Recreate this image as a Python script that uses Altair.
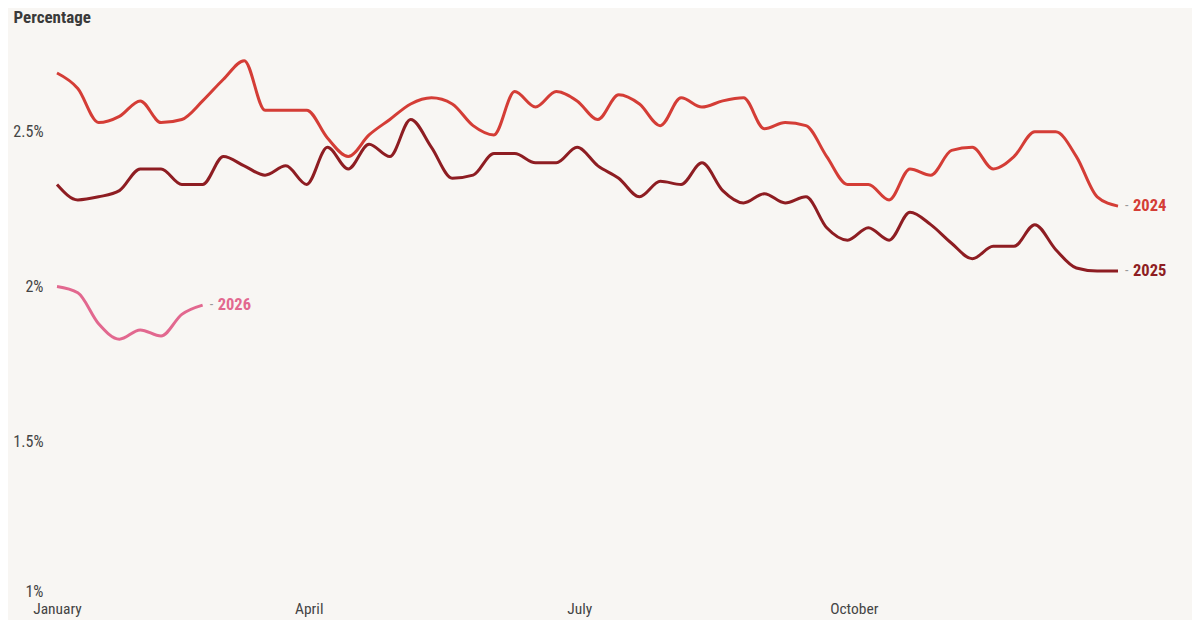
import altair as alt
import pandas as pd

weeks = list(range(52))
v2024 = [2.69, 2.64, 2.53, 2.55, 2.60, 2.53, 2.54, 2.60, 2.67, 2.73,
         2.57, 2.57, 2.57, 2.48, 2.42, 2.49, 2.54, 2.59, 2.61, 2.59,
         2.52, 2.49, 2.63, 2.58, 2.63, 2.60, 2.54, 2.62, 2.59, 2.52,
         2.61, 2.58, 2.60, 2.61, 2.51, 2.53, 2.52, 2.42, 2.33, 2.33,
         2.28, 2.38, 2.36, 2.44, 2.45, 2.38, 2.42, 2.50, 2.50, 2.42,
         2.29, 2.26]
v2025 = [2.33, 2.28, 2.29, 2.31, 2.38, 2.38, 2.33, 2.33, 2.42, 2.39,
         2.36, 2.39, 2.33, 2.45, 2.38, 2.46, 2.42, 2.54, 2.45, 2.35,
         2.36, 2.43, 2.43, 2.40, 2.40, 2.45, 2.39, 2.35, 2.29, 2.34,
         2.33, 2.40, 2.31, 2.27, 2.30, 2.27, 2.29, 2.19, 2.15, 2.19,
         2.15, 2.24, 2.20, 2.14, 2.09, 2.13, 2.13, 2.20, 2.12, 2.06,
         2.05, 2.05]
v2026 = [2.00, 1.98, 1.88, 1.83, 1.86, 1.84, 1.91, 1.94]

series_names = ["2024", "2025", "2026"]
series_colors = ["#d43d36", "#8e1d22", "#e2688f"]
month_labels = ["January", "April", "July", "October"]
month_weeks = [0, 12.1, 25.1, 38.3]

rows = []
for name, vals in zip(series_names, [v2024, v2025, v2026]):
    for w, v in zip(weeks, vals):
        rows.append({"week": w, "value": v, "year": name})
df = pd.DataFrame(rows)

last = pd.DataFrame([
    {"week": len(vals) - 1, "value": vals[-1], "year": name}
    for name, vals in zip(series_names, [v2024, v2025, v2026])
])

FONT = "Roboto Condensed, Liberation Sans Narrow, DejaVu Sans Condensed, Roboto, sans-serif"

label_expr = " : ".join(
    [f"datum.value == {w} ? '{m}'" for w, m in zip(month_weeks, month_labels)]
) + " : ''"

x = alt.X("week:Q",
          scale=alt.Scale(domain=[0, 51], nice=False, zero=False),
          axis=alt.Axis(values=month_weeks, labelExpr=label_expr, title=None,
                        grid=False, domain=False, ticks=False,
                        labelFont=FONT, labelFontSize=15.5, labelColor="#444",
                        labelPadding=5, labelAlign="center"))
y = alt.Y("value:Q",
          scale=alt.Scale(domain=[1, 2.8], nice=False, zero=False),
          axis=alt.Axis(values=[1, 1.5, 2, 2.5], labelExpr="datum.value + '%'",
                        title="Percentage", titleAngle=0, titleAlign="left",
                        titleBaseline="middle", titleX=-44, titleY=-22,
                        titleFont=FONT, titleFontSize=17, titleFontWeight="bold",
                        titleColor="#3a3a3a",
                        grid=False, domain=False, ticks=False,
                        labelFont=FONT, labelFontSize=16, labelColor="#444",
                        labelPadding=14, labelBaseline="middle",
                        labelOffset={"condition": {"test": "datum.value == 1", "value": -5},
                                     "value": 0}))

color = alt.Color("year:N", scale=alt.Scale(domain=series_names, range=series_colors),
                  legend=None)

lines = alt.Chart(df).mark_line(strokeWidth=3, interpolate="monotone").encode(
    x=x, y=y, color=color, detail="year:N")

dashes = alt.Chart(last).mark_text(text="-", align="left", baseline="middle",
                                   dx=7, font=FONT, fontSize=14, color="#999").encode(
    x="week:Q", y="value:Q")

labels = alt.Chart(last).mark_text(align="left", baseline="middle", dx=15,
                                   font=FONT, fontSize=16.5, fontWeight="bold").encode(
    x="week:Q", y="value:Q", text="year:N", color=color)

chart = alt.layer(lines, dashes, labels).properties(
    width=1061, height=557,
    background="#f8f6f3",
    padding={"left": 49, "top": 31, "right": 74, "bottom": 24},
    autosize=alt.AutoSizeParams(type="none"),
).configure_view(stroke=None)

chart.save("out.html", embed_options={"renderer": "svg", "actions": False})
